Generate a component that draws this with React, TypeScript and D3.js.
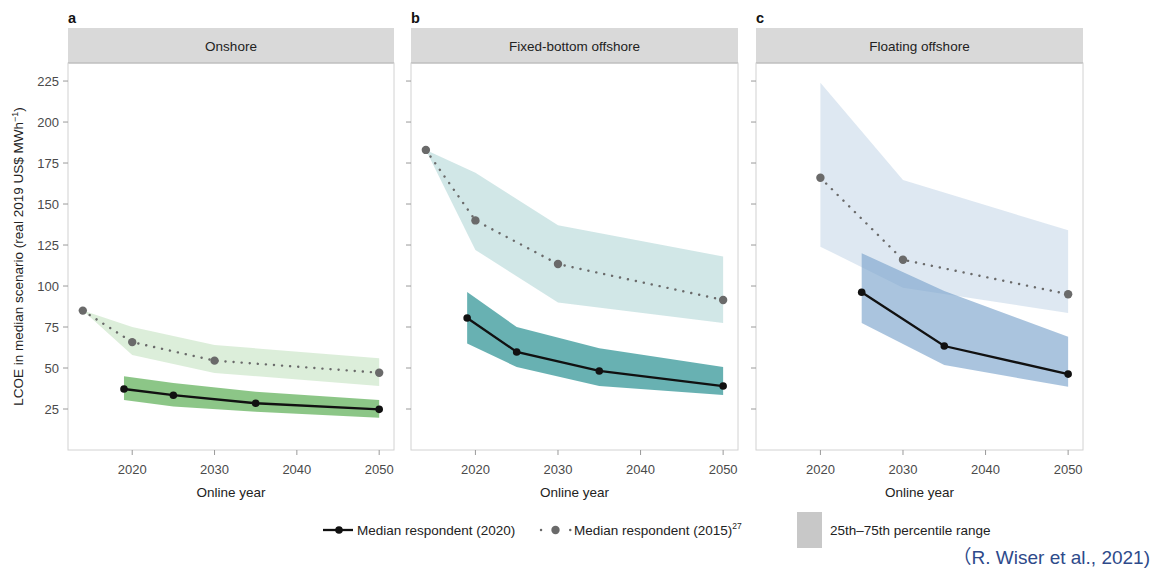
import * as d3 from 'd3';

const panelTitles = ['Onshore', 'Fixed-bottom offshore', 'Floating offshore'];
const panelLetters = ['a', 'b', 'c'];

// median respondent (2020) with 25th-75th percentile range
const onshore2020Years = [2019, 2025, 2035, 2050];
const onshore2020Median = [37.2, 33.4, 28.5, 24.8];
const onshore2020Low = [30.5, 26.5, 23.4, 19.7];
const onshore2020High = [45, 40.8, 35.5, 30.5];
// median respondent (2015)
const onshore2015Years = [2014, 2020, 2030, 2050];
const onshore2015Median = [85, 65.8, 54.5, 47.1];
const onshore2015Low = [85, 58, 47, 39];
const onshore2015High = [85, 75, 64, 56];

const fixed2020Years = [2019, 2025, 2035, 2050];
const fixed2020Median = [80.5, 59.8, 48.2, 39];
const fixed2020Low = [65, 50.6, 39, 33.5];
const fixed2020High = [96.3, 75, 62, 50.6];
const fixed2015Years = [2014, 2020, 2030, 2050];
const fixed2015Median = [183, 140, 113.4, 91.5];
const fixed2015Low = [183, 122, 90, 77.5];
const fixed2015High = [183, 169, 137, 118];

const float2020Years = [2025, 2035, 2050];
const float2020Median = [96.2, 63.4, 46.3];
const float2020Low = [77.5, 51.8, 38.5];
const float2020High = [120, 97, 69];
const float2015Years = [2020, 2030, 2050];
const float2015Median = [166, 116, 95];
const float2015Low = [124, 99, 83.5];
const float2015High = [224, 164.6, 134];

const yTicks = [25, 50, 75, 100, 125, 150, 175, 200, 225];
const xTicks = [2020, 2030, 2040, 2050];

const panelColors = ['#4ea847', '#178789', '#7da5cd'];
const lightAlpha = [0.2, 0.2, 0.25];

type Pt = { year: number; mid: number; lo: number; hi: number };

const zip = (years: number[], mid: number[], lo: number[], hi: number[]): Pt[] =>
  years.map((year, i) => ({ year, mid: mid[i], lo: lo[i], hi: hi[i] }));

const panelData = [
  {
    now: zip(onshore2020Years, onshore2020Median, onshore2020Low, onshore2020High),
    old: zip(onshore2015Years, onshore2015Median, onshore2015Low, onshore2015High)
  },
  {
    now: zip(fixed2020Years, fixed2020Median, fixed2020Low, fixed2020High),
    old: zip(fixed2015Years, fixed2015Median, fixed2015Low, fixed2015High)
  },
  {
    now: zip(float2020Years, float2020Median, float2020Low, float2020High),
    old: zip(float2015Years, float2015Median, float2015Low, float2015High)
  }
];

const W = 1162;
const H = 570;
const panelX = [
  [68, 394],
  [411, 738],
  [756, 1083]
];
const stripTop = 28;
const plotTop = 63;
const plotBottom = 450;
const font = 'Liberation Sans, Arial, Helvetica, sans-serif';

const y = d3.scaleLinear().domain([0, 236]).range([plotBottom, plotTop]);

function Panel({ idx }: { idx: number }) {
  const [x0, x1] = panelX[idx];
  const x = d3.scaleLinear().domain([2012.2, 2051.8]).range([x0, x1]);
  const { now, old } = panelData[idx];
  const color = panelColors[idx];

  const area = d3
    .area<Pt>()
    .x(d => x(d.year))
    .y0(d => y(d.lo))
    .y1(d => y(d.hi));
  const line = d3
    .line<Pt>()
    .x(d => x(d.year))
    .y(d => y(d.mid));

  return (
    <g>
      <text x={x0} y={stripTop - 5} fontSize={14.5} fontWeight="bold" fill="#111" fontFamily={font}>
        {panelLetters[idx]}
      </text>
      <rect x={x0} y={stripTop} width={x1 - x0} height={plotTop - stripTop} fill="#d9d9d9" />
      <line x1={x0} x2={x1} y1={plotTop} y2={plotTop} stroke="#9a9a9a" strokeWidth={1.2} />
      <text
        x={(x0 + x1) / 2}
        y={(stripTop + plotTop) / 2 + 5}
        textAnchor="middle"
        fontSize={13.5}
        fill="#222"
        fontFamily={font}
      >
        {panelTitles[idx]}
      </text>
      <rect
        x={x0}
        y={plotTop}
        width={x1 - x0}
        height={plotBottom - plotTop}
        fill="none"
        stroke="#d2d2d2"
        strokeWidth={1}
      />
      {yTicks.map(t => (
        <g key={t}>
          <line x1={x0 - 5} x2={x0} y1={y(t)} y2={y(t)} stroke="#9a9a9a" />
          {idx === 0 && (
            <text
              x={x0 - 9}
              y={y(t) + 4.5}
              textAnchor="end"
              fontSize={13}
              fill="#4a4a4a"
              fontFamily={font}
            >
              {t}
            </text>
          )}
        </g>
      ))}
      {xTicks.map(t => (
        <g key={t}>
          <line x1={x(t)} x2={x(t)} y1={plotBottom} y2={plotBottom + 5} stroke="#9a9a9a" />
          <text
            x={x(t)}
            y={plotBottom + 24}
            textAnchor="middle"
            fontSize={13}
            fill="#4a4a4a"
            fontFamily={font}
          >
            {t}
          </text>
        </g>
      ))}
      <text
        x={(x0 + x1) / 2}
        y={plotBottom + 47}
        textAnchor="middle"
        fontSize={13.5}
        fill="#222"
        fontFamily={font}
      >
        Online year
      </text>

      <path d={area(old) ?? ''} fill={color} fillOpacity={lightAlpha[idx]} />
      <path d={area(now) ?? ''} fill={color} fillOpacity={0.65} />

      <path
        d={line(old) ?? ''}
        fill="none"
        stroke="#6a6a6a"
        strokeWidth={2.4}
        strokeDasharray="0.1 8"
        strokeLinecap="round"
      />
      {old.map(d => (
        <circle key={d.year} cx={x(d.year)} cy={y(d.mid)} r={4.2} fill="#6a6a6a" />
      ))}

      <path d={line(now) ?? ''} fill="none" stroke="#111" strokeWidth={2.3} />
      {now.map(d => (
        <circle key={d.year} cx={x(d.year)} cy={y(d.mid)} r={3.8} fill="#111" />
      ))}
    </g>
  );
}

export default function App() {
  const legendY = 530;
  return (
    <svg
      width={W}
      height={H}
      style={{ position: 'absolute', left: 0, top: 0, background: '#fff' }}
    >
      <rect width={W} height={H} fill="#fff" />
      <text
        transform={`translate(23, ${(plotTop + plotBottom) / 2}) rotate(-90)`}
        textAnchor="middle"
        fontSize={13.5}
        fill="#222"
        fontFamily={font}
      >
        LCOE in median scenario (real 2019 US$ MWh
        <tspan dy={-5} fontSize={9}>−1</tspan>
        <tspan dy={5}>)</tspan>
      </text>
      {panelTitles.map((_, i) => (
        <Panel key={i} idx={i} />
      ))}

      <g fontFamily={font} fontSize={13.5} fill="#222">
        <line x1={323} x2={353} y1={legendY} y2={legendY} stroke="#111" strokeWidth={2.3} />
        <circle cx={339} cy={legendY} r={3.8} fill="#111" />
        <text x={357} y={legendY + 5}>Median respondent (2020)</text>

        <line
          x1={541}
          x2={571}
          y1={legendY}
          y2={legendY}
          stroke="#6a6a6a"
          strokeWidth={2.4}
          strokeDasharray="0.1 14.5"
          strokeLinecap="round"
        />
        <circle cx={555.5} cy={legendY} r={4.2} fill="#6a6a6a" />
        <text x={574} y={legendY + 5}>
          Median respondent (2015)
          <tspan dy={-6} fontSize={8.5}>27</tspan>
        </text>

        <rect x={797} y={512} width={25} height={36} fill="#c8c8c8" />
        <text x={830} y={legendY + 5}>25th–75th percentile range</text>
      </g>

      <text
        x={1150}
        y={564}
        textAnchor="end"
        fontSize={19}
        fill="#2e4a8a"
        fontFamily={`${font}, Noto Sans CJK SC`}
      >
        （R. Wiser et al., 2021)
      </text>
    </svg>
  );
}
